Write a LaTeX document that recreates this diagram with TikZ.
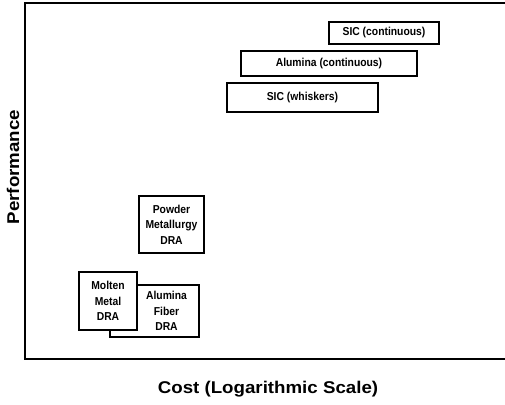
\documentclass[tikz,border=0pt]{standalone}
\usepackage{fontspec}
\setmainfont{Liberation Sans}
\newfontfamily\boxfont[FakeStretch=0.9]{Liberation Sans}
\newfontfamily\axfont[FakeStretch=1.1]{Liberation Sans}
\begin{document}
\begin{tikzpicture}[x=1pt,y=-1pt,
  boxtext/.style={font=\boxfont\fontsize{11.5}{15.5}\selectfont\bfseries,align=center},
  box/.style={draw=black,line width=1.4pt,rectangle,inner sep=0pt,fill=white,boxtext},
  axlabel/.style={font=\axfont\fontsize{17}{20}\selectfont\bfseries}]
\useasboundingbox (0,0) rectangle (505,404);
% frame
\coordinate (tr) at (505,3);
\coordinate (tl) at (25,3);
\coordinate (bl) at (25,359);
\coordinate (br) at (505,359);
\draw[line width=1.8pt] (tr) -- (tl) -- (bl) -- (br);
% boxes
\node[box,minimum width=110pt,minimum height=22pt] (sicc) at (384,33) {SIC (continuous)};
\node[box,minimum width=176pt,minimum height=25pt] (alc) at (329,63.5) {Alumina (continuous)};
\node[box,minimum width=151pt,minimum height=29pt] (sicw) at (302.5,97.5) {SIC (whiskers)};
\node[box,minimum width=65pt,minimum height=57pt] (pm) at (171.5,224.5) {Powder\\Metallurgy\\DRA};
\node[box,minimum width=89pt,minimum height=52pt,
  label={[boxtext,xshift=12pt]center:Alumina\\Fiber\\DRA}] (alf) at (154.5,311) {};
\node[box,minimum width=58pt,minimum height=58pt] (mm) at (108,301) {Molten\\Metal\\DRA};
% axis labels
\node[axlabel,rotate=90] (perf) at (13,167) {Performance};
\node[axlabel] (cost) at (268,389) {Cost (Logarithmic Scale)};
\end{tikzpicture}
\end{document}
